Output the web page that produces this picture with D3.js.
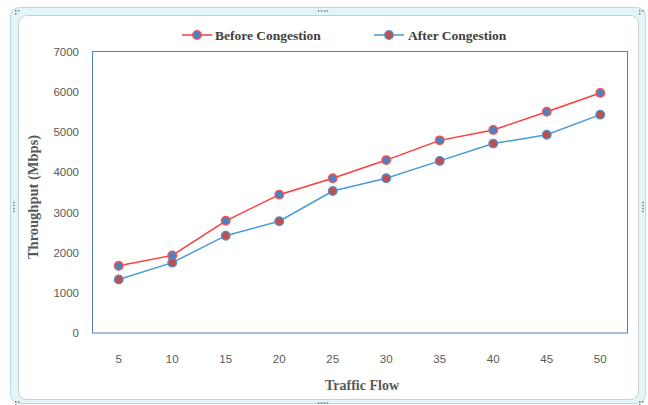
<!DOCTYPE html>
<html>
<head>
<meta charset="utf-8">
<script src="https://cdn.jsdelivr.net/npm/d3@7"></script>
<style>
  html, body { margin: 0; padding: 0; background: #ffffff; }
  svg { display: block; }
</style>
</head>
<body>
<svg id="chart" width="648" height="405"></svg>
<script>
// Traffic flow levels and measured throughput (Mbps)
const trafficFlow = [5, 10, 15, 20, 25, 30, 35, 40, 45, 50];
const beforeCongestion = [1670, 1930, 2790, 3440, 3850, 4300, 4790, 5050, 5500, 5970];
const afterCongestion  = [1330, 1750, 2420, 2780, 3530, 3850, 4280, 4710, 4930, 5430];
const yTicks = [0, 1000, 2000, 3000, 4000, 5000, 6000, 7000];
const seriesNames = ["Before Congestion", "After Congestion"];

const svg = d3.select("#chart");

// Selection frame around the chart object
svg.append("rect").attr("x", 10.5).attr("y", 7.5).attr("width", 635).attr("height", 396)
  .attr("rx", 9).attr("fill", "#e4f5f7").attr("stroke", "#b9d9de");
svg.append("rect").attr("x", 18.5).attr("y", 15.5).attr("width", 620).attr("height", 384)
  .attr("rx", 8).attr("fill", "#ffffff").attr("stroke", "#c8cfd3");

// Resize handles (dot groups)
function dots(cx, cy, horizontal) {
  const g = svg.append("g").attr("fill", "#6a7f86");
  for (let i = 0; i < 4; i++) {
    const off = (i - 1.5) * 3;
    g.append("rect")
      .attr("x", horizontal ? cx + off - 0.75 : cx - 0.75)
      .attr("y", horizontal ? cy - 0.75 : cy + off - 0.75)
      .attr("width", 1.5).attr("height", 1.5);
  }
}
dots(323, 11, true);
dots(323, 403, true);
dots(14, 207, false);
dots(643, 207, false);
function cornerDots(x, y) {
  const g = svg.append("g").attr("fill", "#6a7f86");
  [[0, 0], [3, 0], [0, 3]].forEach(([dx, dy]) =>
    g.append("rect").attr("x", x + dx).attr("y", y + dy).attr("width", 1.5).attr("height", 1.5));
}
cornerDots(15, 10);
cornerDots(639, 10);
cornerDots(15, 401);
cornerDots(639, 401);

// Plot area
const plot = { left: 92, right: 627, top: 51.5, bottom: 333 };

const x = d3.scaleBand()
  .domain(trafficFlow)
  .range([plot.left, plot.right]);

const y = d3.scaleLinear()
  .domain([0, 7000])
  .range([plot.bottom, plot.top]);

svg.append("rect")
  .attr("x", plot.left + 0.5).attr("y", plot.top)
  .attr("width", plot.right - plot.left).attr("height", plot.bottom - plot.top)
  .attr("fill", "none").attr("stroke", "#4f81bd").attr("stroke-width", 1);

// Axes (labels only, no tick marks)
const tickFont = "'Liberation Sans', Arial, sans-serif";
const xAxis = svg.append("g")
  .attr("transform", `translate(0,${plot.bottom})`)
  .call(d3.axisBottom(x).tickSize(0).tickPadding(22));
xAxis.select(".domain").remove();
xAxis.selectAll("text").attr("font-family", tickFont).attr("font-size", 11.5).attr("fill", "#595959");

const yAxis = svg.append("g")
  .attr("transform", `translate(${plot.left},0)`)
  .call(d3.axisLeft(y).tickValues(yTicks).tickSize(0).tickPadding(13).tickFormat(d3.format("d")));
yAxis.select(".domain").remove();
yAxis.selectAll("text").attr("font-family", tickFont).attr("font-size", 11.5).attr("fill", "#595959");

// Axis titles
const titleFont = "'Liberation Serif', 'Times New Roman', serif";
svg.append("text")
  .attr("x", 362).attr("y", 390)
  .attr("text-anchor", "middle")
  .attr("font-family", titleFont).attr("font-weight", "bold").attr("font-size", 14)
  .attr("fill", "#595959")
  .text("Traffic Flow");

svg.append("text")
  .attr("transform", "translate(38,197) rotate(-90)")
  .attr("text-anchor", "middle")
  .attr("font-family", titleFont).attr("font-weight", "bold").attr("font-size", 14.5)
  .attr("fill", "#595959")
  .text("Throughput (Mbps)");

// Series
const series = [
  { name: seriesNames[0], values: beforeCongestion, line: "#ff3b3b", fill: "#4f81bd", stroke: "#ff4f4f" },
  { name: seriesNames[1], values: afterCongestion,  line: "#4a9ad6", fill: "#c0504d", stroke: "#4f8fcf" }
];

const line = d3.line()
  .x((d, i) => x(trafficFlow[i]) + x.bandwidth() / 2)
  .y(d => y(d));

series.forEach(s => {
  svg.append("path")
    .datum(s.values)
    .attr("d", line)
    .attr("fill", "none")
    .attr("stroke", s.line)
    .attr("stroke-width", 1.5);
  svg.append("g").selectAll("circle")
    .data(s.values)
    .join("circle")
    .attr("cx", (d, i) => x(trafficFlow[i]) + x.bandwidth() / 2)
    .attr("cy", d => y(d))
    .attr("r", 4.3)
    .attr("fill", s.fill)
    .attr("stroke", s.stroke)
    .attr("stroke-width", 1.3);
});

// Legend
const legendItems = [
  { s: series[0], x0: 182, tx: 215 },
  { s: series[1], x0: 374, tx: 408 }
];
legendItems.forEach(({ s, x0, tx }) => {
  const g = svg.append("g");
  g.append("line").attr("x1", x0).attr("x2", x0 + 30).attr("y1", 35).attr("y2", 35)
    .attr("stroke", s.line).attr("stroke-width", 1.5);
  g.append("circle").attr("cx", x0 + 15).attr("cy", 35).attr("r", 4.3)
    .attr("fill", s.fill).attr("stroke", s.stroke).attr("stroke-width", 1.3);
  g.append("text").attr("x", tx).attr("y", 39.5)
    .attr("font-family", titleFont).attr("font-weight", "bold").attr("font-size", 13.5)
    .attr("fill", "#404040")
    .text(s.name);
});
</script>
</body>
</html>
